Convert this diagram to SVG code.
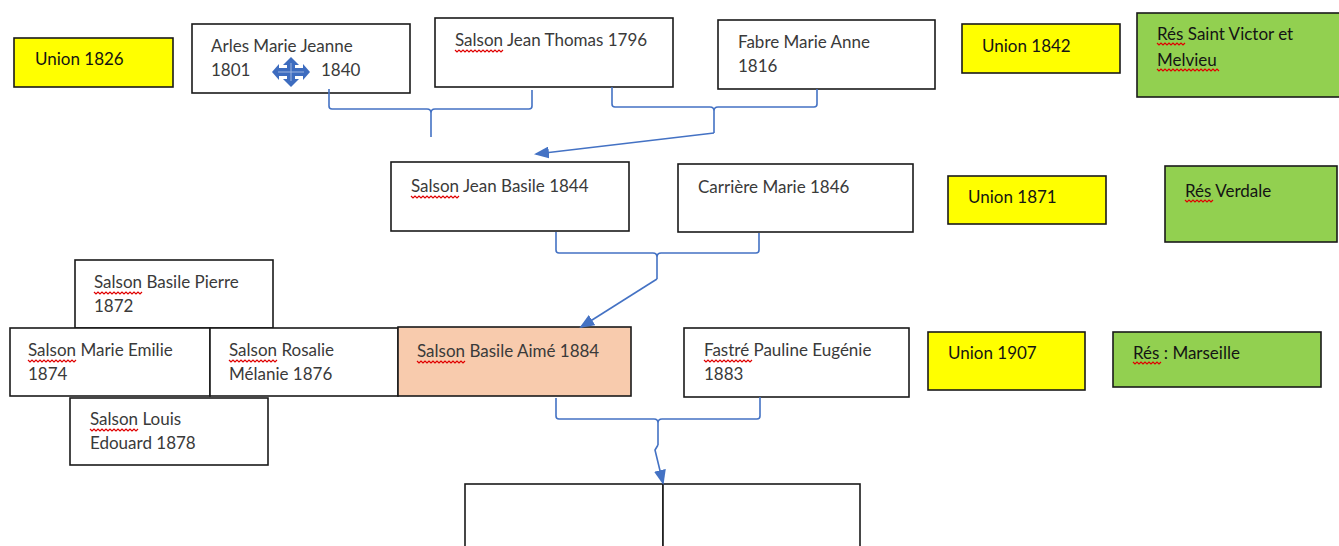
<svg xmlns="http://www.w3.org/2000/svg" width="1339" height="546" viewBox="0 0 1339 546">
<style>
.box{fill:#fff;stroke:#1a1a1a;stroke-width:1.6}
.y{fill:#ffff00;stroke:#1a1a1a;stroke-width:1.6}
.g{fill:#92d050;stroke:#1a1a1a;stroke-width:1.6}
.o{fill:#f8cbad;stroke:#1a1a1a;stroke-width:1.6}
text{font-family:Lato,"Open Sans","Liberation Sans",sans-serif;font-size:17px;fill:#3a3a3a}
.dk{fill:#141414}
.c{fill:none;stroke:#4472c4;stroke-width:1.6;stroke-linejoin:round}
.sq{fill:none;stroke:#e00000;stroke-width:1.2}
</style>
<defs>
<marker id="ah" markerWidth="15" markerHeight="12" refX="13" refY="6" orient="auto" markerUnits="userSpaceOnUse">
<path d="M0,0 L15,6 L0,12 Z" fill="#4472c4"/>
</marker>
</defs>

<g id="union1826"><rect class="y" x="14" y="38" width="159" height="49"/><text class="dk" x="35" y="65">Union 1826</text></g>
<g id="arles"><rect class="box" x="192" y="24" width="218" height="69"/><text x="211" y="52">Arles Marie Jeanne</text><text x="211" y="76">1801</text><text x="321" y="76">1840</text>
<path transform="translate(291,72)" fill="#3d6cbf" d="M0,-15 L8,-7 L4,-7 L4,-4 L12,-4 L12,-8 L19,0 L12,8 L12,4 L4,4 L4,7 L8,7 L0,15 L-8,7 L-4,7 L-4,4 L-12,4 L-12,8 L-19,0 L-12,-8 L-12,-4 L-4,-4 L-4,-7 L-8,-7 Z"/>
<path transform="translate(291,72)" fill="none" stroke="#9db4e0" stroke-width="1" d="M0,-9 V9 M-13,0 H13"/>
</g>
<g id="jeanthomas"><rect class="box" x="435" y="18" width="238" height="69"/><text x="455" y="46">Salson Jean Thomas 1796</text></g>
<g id="fabre"><rect class="box" x="718" y="20" width="217" height="69"/><text x="738" y="48">Fabre Marie Anne</text><text x="738" y="72">1816</text></g>
<g id="union1842"><rect class="y" x="962" y="24" width="158" height="49"/><text class="dk" x="982" y="52">Union 1842</text></g>
<g id="res1"><rect class="g" x="1137" y="13" width="204" height="84"/><text class="dk" x="1157" y="40">Rés Saint Victor et</text><text class="dk" x="1157" y="66">Melvieu</text></g>

<g id="jeanbasile"><rect class="box" x="391" y="162" width="238" height="69"/><text x="411" y="192">Salson Jean Basile 1844</text></g>
<g id="carriere"><rect class="box" x="678" y="164" width="235" height="68"/><text x="698" y="193">Carrière Marie 1846</text></g>
<g id="union1871"><rect class="y" x="948" y="176" width="158" height="48"/><text class="dk" x="968" y="203">Union 1871</text></g>
<g id="res2"><rect class="g" x="1165" y="166" width="172" height="76"/><text class="dk" x="1185" y="197">Rés Verdale</text></g>

<g id="basilepierre"><rect class="box" x="75" y="260" width="198" height="68"/><text x="94" y="288">Salson Basile Pierre</text><text x="94" y="312">1872</text></g>
<g id="marieemilie"><rect class="box" x="10" y="328" width="200" height="68"/><text x="28" y="356">Salson Marie Emilie</text><text x="28" y="380">1874</text></g>
<g id="rosalie"><rect class="box" x="210" y="328" width="188" height="68"/><text x="229" y="356">Salson Rosalie</text><text x="229" y="380">Mélanie 1876</text></g>
<g id="basileaime"><rect class="o" x="398" y="327" width="233" height="69"/><text x="417" y="357">Salson Basile Aimé 1884</text></g>
<g id="fastre"><rect class="box" x="684" y="328" width="225" height="69"/><text x="704" y="356">Fastré Pauline Eugénie</text><text x="704" y="380">1883</text></g>
<g id="union1907"><rect class="y" x="928" y="332" width="157" height="58"/><text class="dk" x="948" y="359">Union 1907</text></g>
<g id="res3"><rect class="g" x="1113" y="332" width="208" height="55"/><text class="dk" x="1133" y="359">Rés : Marseille</text></g>
<g id="louis"><rect class="box" x="70" y="398" width="198" height="67"/><text x="90" y="425">Salson Louis</text><text x="90" y="449">Edouard 1878</text></g>

<g id="child1"><rect class="box" x="465" y="484" width="198" height="70"/></g>
<g id="child2"><rect class="box" x="663" y="484" width="197" height="70"/></g>

<g id="squiggles" class="sq">
<path d="M455,50 l2,2 l2,-2 l2,2 l2,-2 l2,2 l2,-2 l2,2 l2,-2 l2,2 l2,-2 l2,2 l2,-2 l2,2 l2,-2 l2,2 l2,-2 l2,2 l2,-2 l2,2 l2,-2 l2,2 l2,-2 l2,2 l2,-2"/>
<path d="M411,196 l2,2 l2,-2 l2,2 l2,-2 l2,2 l2,-2 l2,2 l2,-2 l2,2 l2,-2 l2,2 l2,-2 l2,2 l2,-2 l2,2 l2,-2 l2,2 l2,-2 l2,2 l2,-2 l2,2 l2,-2 l2,2 l2,-2"/>
<path d="M94,292 l2,2 l2,-2 l2,2 l2,-2 l2,2 l2,-2 l2,2 l2,-2 l2,2 l2,-2 l2,2 l2,-2 l2,2 l2,-2 l2,2 l2,-2 l2,2 l2,-2 l2,2 l2,-2 l2,2 l2,-2 l2,2 l2,-2"/>
<path d="M28,360 l2,2 l2,-2 l2,2 l2,-2 l2,2 l2,-2 l2,2 l2,-2 l2,2 l2,-2 l2,2 l2,-2 l2,2 l2,-2 l2,2 l2,-2 l2,2 l2,-2 l2,2 l2,-2 l2,2 l2,-2 l2,2 l2,-2"/>
<path d="M229,360 l2,2 l2,-2 l2,2 l2,-2 l2,2 l2,-2 l2,2 l2,-2 l2,2 l2,-2 l2,2 l2,-2 l2,2 l2,-2 l2,2 l2,-2 l2,2 l2,-2 l2,2 l2,-2 l2,2 l2,-2 l2,2 l2,-2"/>
<path d="M417,361 l2,2 l2,-2 l2,2 l2,-2 l2,2 l2,-2 l2,2 l2,-2 l2,2 l2,-2 l2,2 l2,-2 l2,2 l2,-2 l2,2 l2,-2 l2,2 l2,-2 l2,2 l2,-2 l2,2 l2,-2 l2,2 l2,-2"/>
<path d="M90,429 l2,2 l2,-2 l2,2 l2,-2 l2,2 l2,-2 l2,2 l2,-2 l2,2 l2,-2 l2,2 l2,-2 l2,2 l2,-2 l2,2 l2,-2 l2,2 l2,-2 l2,2 l2,-2 l2,2 l2,-2 l2,2 l2,-2"/>
<path d="M704,360 l2,2 l2,-2 l2,2 l2,-2 l2,2 l2,-2 l2,2 l2,-2 l2,2 l2,-2 l2,2 l2,-2 l2,2 l2,-2 l2,2 l2,-2 l2,2 l2,-2 l2,2 l2,-2 l2,2 l2,-2 l2,2 l2,-2"/>
<path d="M1157,43 l2,2 l2,-2 l2,2 l2,-2 l2,2 l2,-2 l2,2 l2,-2 l2,2 l2,-2 l2,2 l2,-2 l2,2 l2,-2"/>
<path d="M1157,69 l2,2 l2,-2 l2,2 l2,-2 l2,2 l2,-2 l2,2 l2,-2 l2,2 l2,-2 l2,2 l2,-2 l2,2 l2,-2 l2,2 l2,-2 l2,2 l2,-2 l2,2 l2,-2 l2,2 l2,-2 l2,2 l2,-2 l2,2 l2,-2 l2,2 l2,-2 l2,2 l2,-2 l2,2"/>
<path d="M1185,200 l2,2 l2,-2 l2,2 l2,-2 l2,2 l2,-2 l2,2 l2,-2 l2,2 l2,-2 l2,2 l2,-2 l2,2 l2,-2"/>
<path d="M1133,362 l2,2 l2,-2 l2,2 l2,-2 l2,2 l2,-2 l2,2 l2,-2 l2,2 l2,-2 l2,2 l2,-2 l2,2 l2,-2"/>
</g>

<g id="connectors">
<path class="c" d="M329,89 V106 Q329,109 332,109 H427 Q431,109 431,113 V137 M431,113 Q431,109 435,109 H529 Q532,109 532,106 V90"/>
<path class="c" d="M612,87 V104 Q612,107 615,107 H710 Q714,107 714,111 V133 M714,111 Q714,107 718,107 H814 Q817,107 817,104 V89"/>
<path class="c" marker-end="url(#ah)" d="M714,133 L536,154"/>
<path class="c" d="M556,232 V250 Q556,253 559,253 H653 Q657,253 657,257 V279 M657,257 Q657,253 661,253 H756 Q759,253 759,250 V233"/>
<path class="c" marker-end="url(#ah)" d="M657,279 L581,327"/>
<path class="c" d="M556,398 V416 Q556,419 559,419 H654 Q658,419 658,423 V445 M658,423 Q658,419 662,419 H757 Q760,419 760,416 V397"/>
<path class="c" marker-end="url(#ah)" d="M658,445 L655,450 L663,483"/>
</g>
</svg>
